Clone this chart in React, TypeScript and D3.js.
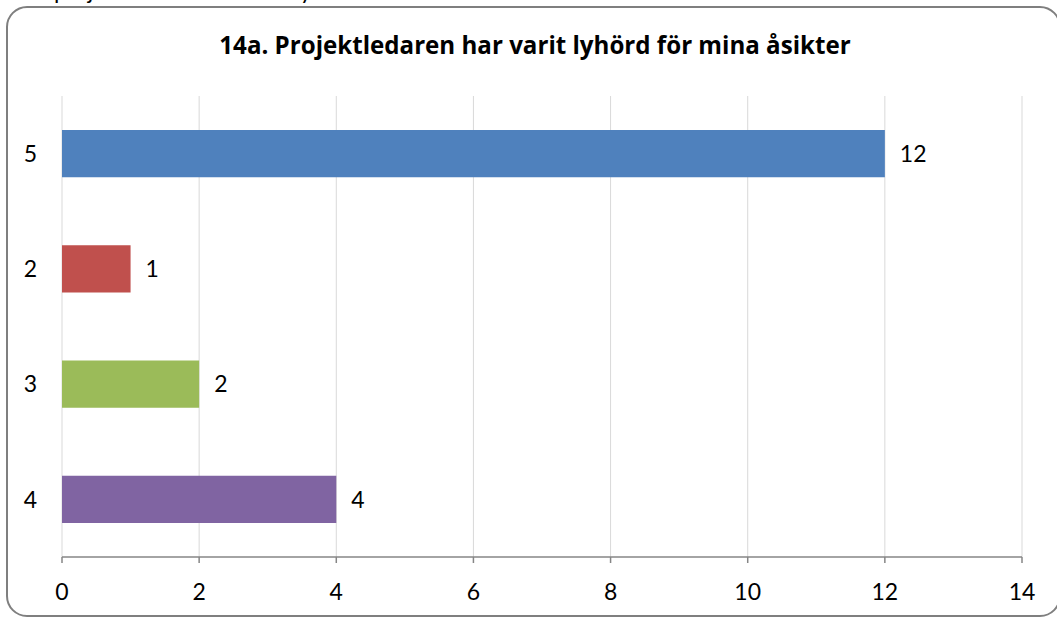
import React, { useRef, useEffect } from 'react'
import * as d3 from 'd3'

const categories = ['5', '2', '3', '4']
const values = [12, 1, 2, 4]
const colors = ['#4F81BD', '#C0504D', '#9BBB59', '#8064A2']
const xTicks = [0, 2, 4, 6, 8, 10, 12, 14]
const title = '14a. Projektledaren har varit lyhörd för mina åsikter'

const App: React.FC = () => {
  const ref = useRef<SVGSVGElement>(null)

  useEffect(() => {
    const width = 1057
    const height = 618
    const svg = d3.select(ref.current)
    svg.selectAll('*').remove()
    const font = 'Lato, "Open Sans", sans-serif'
    const labelFont = `23px ${font}`

    // cut-off line of text above the chart
    svg
      .append('text')
      .attr('x', 36)
      .attr('y', -1)
      .style('font', labelFont)
      .attr('fill', '#000')
      .text('e projektledaren har varit lyhörd för mina åsikter.')

    svg
      .append('rect')
      .attr('x', 7)
      .attr('y', 7)
      .attr('width', 1053)
      .attr('height', 609)
      .attr('rx', 20)
      .attr('fill', '#fff')
      .attr('stroke', '#7f7f7f')
      .attr('stroke-width', 2)

    const x = d3.scaleLinear().domain([0, 14]).range([62, 1022])
    const y = d3.scaleBand().domain(categories).range([96, 557]).paddingInner(0.59).paddingOuter(0.295)

    // gridlines
    svg
      .append('g')
      .selectAll('line')
      .data(xTicks)
      .join('line')
      .attr('x1', d => x(d))
      .attr('x2', d => x(d))
      .attr('y1', 96)
      .attr('y2', 557)
      .attr('stroke', '#d9d9d9')
      .attr('stroke-width', 1)

    svg
      .append('g')
      .selectAll('rect')
      .data(values)
      .join('rect')
      .attr('x', x(0))
      .attr('y', (d, i) => y(categories[i]) as number)
      .attr('width', d => x(d) - x(0))
      .attr('height', y.bandwidth())
      .attr('fill', (d, i) => colors[i])

    svg
      .append('g')
      .selectAll('text')
      .data(values)
      .join('text')
      .attr('x', d => x(d) + 15)
      .attr('y', (d, i) => (y(categories[i]) as number) + y.bandwidth() / 2)
      .attr('dy', '0.36em')
      .style('font', labelFont)
      .attr('fill', '#000')
      .text(d => d)

    svg
      .append('g')
      .selectAll('text')
      .data(categories)
      .join('text')
      .attr('x', 37)
      .attr('y', d => (y(d) as number) + y.bandwidth() / 2)
      .attr('dy', '0.36em')
      .attr('text-anchor', 'end')
      .style('font', labelFont)
      .attr('fill', '#000')
      .text(d => d)

    // x axis
    const axis = svg.append('g')
    axis
      .append('line')
      .attr('x1', x(0))
      .attr('x2', x(14))
      .attr('y1', 557)
      .attr('y2', 557)
      .attr('stroke', '#868686')
      .attr('stroke-width', 1.5)
    axis
      .selectAll('line.tick')
      .data(xTicks)
      .join('line')
      .attr('class', 'tick')
      .attr('x1', d => x(d))
      .attr('x2', d => x(d))
      .attr('y1', 557)
      .attr('y2', 563)
      .attr('stroke', '#868686')
      .attr('stroke-width', 1.5)
    axis
      .selectAll('text')
      .data(xTicks)
      .join('text')
      .attr('x', d => x(d))
      .attr('y', 592)
      .attr('dy', '0.36em')
      .attr('text-anchor', 'middle')
      .style('font', labelFont)
      .attr('fill', '#000')
      .text(d => d)

    // title, fitted to the reference width
    const t = svg
      .append('text')
      .attr('x', 535)
      .attr('y', 54)
      .attr('text-anchor', 'middle')
      .style('font', 'bold 21px "Open Sans", sans-serif')
      .attr('fill', '#000')
      .text(title)
    const node = t.node() as SVGTextElement
    const w = node.getComputedTextLength()
    if (w > 0) {
      const size = Math.min(26, (21 * 632) / w)
      t.style('font', `bold ${size}px "Open Sans", sans-serif`)
    }

    svg.attr('width', width).attr('height', height)
  }, [])

  return (
    <svg
      ref={ref}
      width={1057}
      height={618}
      style={{ position: 'absolute', left: 0, top: 0, background: '#fff', overflow: 'hidden' }}
    />
  )
}

export default App
